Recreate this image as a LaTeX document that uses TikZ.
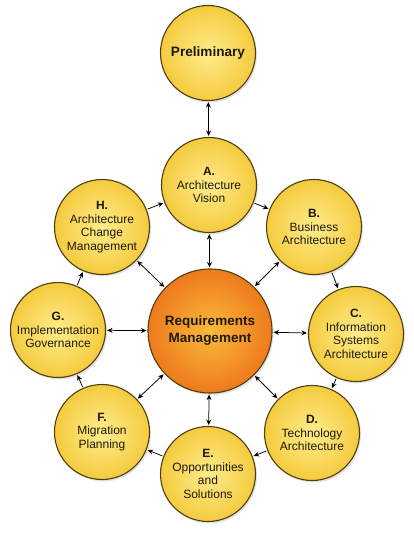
\documentclass[tikz,border=0pt]{standalone}
\usepackage{fontspec}
\setmainfont{Liberation Sans}
\usetikzlibrary{arrows.meta,shadows}
\definecolor{ringline}{RGB}{80,62,15}
\definecolor{yin}{RGB}{255,236,140}
\definecolor{yout}{RGB}{244,203,62}
\definecolor{oin}{RGB}{250,185,60}
\definecolor{oout}{RGB}{238,122,28}
\definecolor{txt}{RGB}{30,26,8}
\begin{document}
\begin{tikzpicture}[x=1pt,y=-1pt,
 phase/.style={circle, draw=ringline, line width=1.1pt, inner color=yin, outer color=yout,
   minimum size=95pt, inner sep=0pt, align=center, text=txt,
   font=\fontsize{12}{13.5}\selectfont,
   drop shadow={opacity=0.22,shadow xshift=1.5pt,shadow yshift=-2pt}},
 core/.style={phase, inner color=oin, outer color=oout, minimum size=124pt,
   font=\bfseries\fontsize{13.5}{17}\selectfont},
 prelim/.style={phase, font=\bfseries\fontsize{13.6}{16}\selectfont},
 link/.style={-{Stealth[length=5.5pt,width=5pt]}, line width=0.75pt, shorten >=1pt, shorten <=1pt},
 both/.style={link, {Stealth[length=5.5pt,width=5pt]}-{Stealth[length=5.5pt,width=5pt]}}
]
\useasboundingbox (0,0) rectangle (413,535);
\node[prelim] (P) at (208,53) {Preliminary};
\node[phase] (A) at (209,185) {\textbf{A.}\\Architecture\\Vision};
\node[phase] (B) at (314,227) {\textbf{B.}\\Business\\Architecture};
\node[phase] (C) at (356,334) {\textbf{C.}\\Information\\Systems\\Architecture};
\node[phase] (D) at (312,433) {\textbf{D.}\\Technology\\Architecture};
\node[phase] (E) at (208,474) {\textbf{E.}\\Opportunities\\and\\Solutions};
\node[phase] (F) at (102,432) {\textbf{F.}\\Migration\\Planning};
\node[phase] (G) at (58,330) {\textbf{G.}\\Implementation\\Governance};
\node[phase] (H) at (102,227) {\textbf{H.}\\Architecture\\Change\\Management};
\node[core] (R) at (210,331) {Requirements\\Management};
\draw[both] (P) -- (A);
\draw[link] (A) -- (B);
\draw[link] (B) -- (C);
\draw[link] (C) -- (D);
\draw[link] (D) -- (E);
\draw[link] (E) -- (F);
\draw[link] (F) -- (G);
\draw[link] (G) -- (H);
\draw[link] (H) -- (A);
\foreach \n in {A,B,C,D,E,F,G,H} \draw[both] (R) -- (\n);
\end{tikzpicture}
\end{document}
